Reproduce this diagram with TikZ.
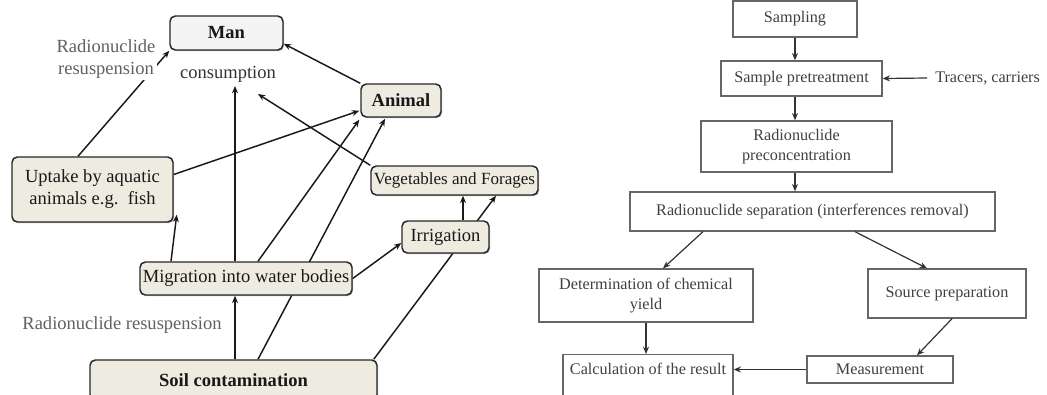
\documentclass[tikz,border=0pt]{standalone}
\usepackage{fontspec}
\setmainfont{Liberation Serif}
\usetikzlibrary{calc,arrows.meta,backgrounds,shadows}
\definecolor{tanfill}{HTML}{EEECE1}
\definecolor{manfill}{HTML}{F4F4F4}
\newcommand\leftfnt{\fontsize{13.9pt}{16.5pt}\selectfont}
\newcommand\vegfnt{\fontsize{12.8pt}{15pt}\selectfont}
\newcommand\rightfnt{\fontsize{12.15pt}{14.8pt}\selectfont}
\begin{document}
\begin{tikzpicture}[x=0.75pt,y=-0.75pt,
 lbox/.style={draw=black!85, line width=1.1pt, rounded corners=4pt, fill=tanfill, inner sep=1pt,
   font=\leftfnt, text=black!90, align=center,
   drop shadow={shadow xshift=0.8pt,shadow yshift=-0.8pt,fill=black!50,opacity=0.6}},
 rbox/.style={draw=black!60, line width=1pt, fill=white, inner sep=1pt, font=\rightfnt,
   text=black!75, align=center},
 larr/.style={line width=1.1pt, draw=black!90, -{Stealth[length=5.5pt,width=4.5pt]}},
 rarr/.style={line width=0.9pt, draw=black!80, -{Stealth[length=5.5pt,width=4.5pt]}},
 lbl/.style={font=\leftfnt, text=black!62, align=center, inner sep=1.5pt}
]
\useasboundingbox (0,0) rectangle (1047,394);

% ---------- left diagram ----------
\node[lbox, fill=manfill, font=\leftfnt\bfseries, minimum width=84.75pt, minimum height=25.5pt] (man) at (226.5,33) {Man};
\node[lbox, font=\leftfnt\bfseries, minimum width=60pt, minimum height=24.75pt] (ani) at (401,100.5) {Animal};
\node[lbox, minimum width=120.75pt, minimum height=48.75pt] (upt) at (92.5,189.5) {Uptake by aquatic\\animals e.g.\ \ fish};
\node[lbox, font=\vegfnt, minimum width=125.25pt, minimum height=21.75pt] (veg) at (454.5,180.5) {Vegetables and Forages};
\node[lbox, minimum width=65.25pt, minimum height=24pt] (irr) at (445.5,237) {Irrigation};
\node[lbox, minimum width=159pt, minimum height=24.75pt] (mig) at (246,278.5) {Migration into water bodies};
\node[lbox, font=\leftfnt\bfseries, minimum width=215.25pt, minimum height=30pt] (soil) at (233.5,380) {Soil contamination};

\node[lbl, fill=white] (rr1) at (106,59) {Radionuclide\\resuspension};
\node[lbl, text=black!80] (cons) at (228,74) {consumption};
\node[lbl] (rr2) at (122,325) {Radionuclide resuspension};
\coordinate (c1) at (235,86);
\coordinate (c2) at (258,94);

\begin{pgfonlayer}{background}
\draw[larr] ($(upt.north)+(-14.5,0)$) -- (man.south west);
\draw[larr] (ani.north west) -- ($(man.south east)+(0,-7)$);
\draw[larr] ($(mig.north)+(-11,0)$) -- (c1);
\draw[larr] (veg.north west) -- (c2);
\draw[larr] ($(upt.east)+(0,-15)$) -- ($(ani.south west)+(-1,-7)$);
\draw[larr] ($(mig.north)+(12,0)$) -- ($(ani.south west)+(-1,2)$);
\draw[larr] ($(soil.north)+(24.5,0)$) -- ($(ani.south)+(-16,1)$);
\draw[larr] ($(mig.north)+(-75,0)$) -- ($(upt.south east)+(3,-8)$);
\draw[larr] ($(soil.north)+(1.5,0)$) -- ($(mig.south)+(-11,0)$);
\draw[larr] (mig.east) -- ($(irr.west)+(0,6)$);
\draw[larr] ($(soil.north east)+(-4,0)$) -- ($(veg.south)+(41.5,0)$);
\draw[larr] ($(irr.north)+(17.5,0)$) -- ($(veg.south)+(8.5,0)$);
\end{pgfonlayer}

% ---------- right diagram ----------
\node[rbox, minimum width=93pt, minimum height=27pt] (samp) at (795,19) {Sampling};
\node[rbox, minimum width=120.75pt, minimum height=26.25pt] (pre) at (801.5,78.5) {Sample pretreatment};
\node[rbox, minimum width=143.25pt, minimum height=38.25pt] (pc) at (796.5,146.5) {Radionuclide\\preconcentration};
\node[rbox, minimum width=273.75pt, minimum height=29.25pt] (sep) at (812.5,211.5) {Radionuclide separation (interferences removal)};
\node[rbox, minimum width=160.5pt, minimum height=39.75pt] (det) at (646,295.5) {Determination of chemical\\yield};
\node[rbox, minimum width=118.5pt, minimum height=36.75pt] (src) at (947,293.5) {Source preparation};
\node[rbox, anchor=north, minimum width=127.5pt, text height=12pt, text depth=32pt, inner ysep=3pt] (calcr) at (648,354) {Calculation of the result};
\node[rbox, minimum width=109.5pt, minimum height=20.25pt] (meas) at (880,369.5) {Measurement};
\node[font=\rightfnt, text=black!75, anchor=west, inner sep=0pt] (trac) at (935,78) {Tracers, carriers};

\draw[rarr] (samp.south) -- (samp.south |- pre.north);
\draw[rarr] (pre.south -| samp.south) -- (pc.north -| samp.south);
\draw[rarr] (pc.south -| samp.south) -- (sep.north -| samp.south);
\draw[rarr] ($(trac.west)+(-8,0)$) -- (pre.east);
\draw[rarr] ($(sep.south)+(-109.5,0)$) -- ($(det.north)+(17,0)$);
\draw[rarr] ($(sep.south)+(42.5,0)$) -- ($(src.north)+(-20,0)$);
\draw[rarr] (det.south) -- (det.south |- calcr.north);
\draw[rarr] ($(src.south)+(5,0)$) -- ($(meas.north)+(37,0)$);
\draw[rarr] (meas.west) -- (meas.west -| calcr.east);
\end{tikzpicture}
\end{document}
